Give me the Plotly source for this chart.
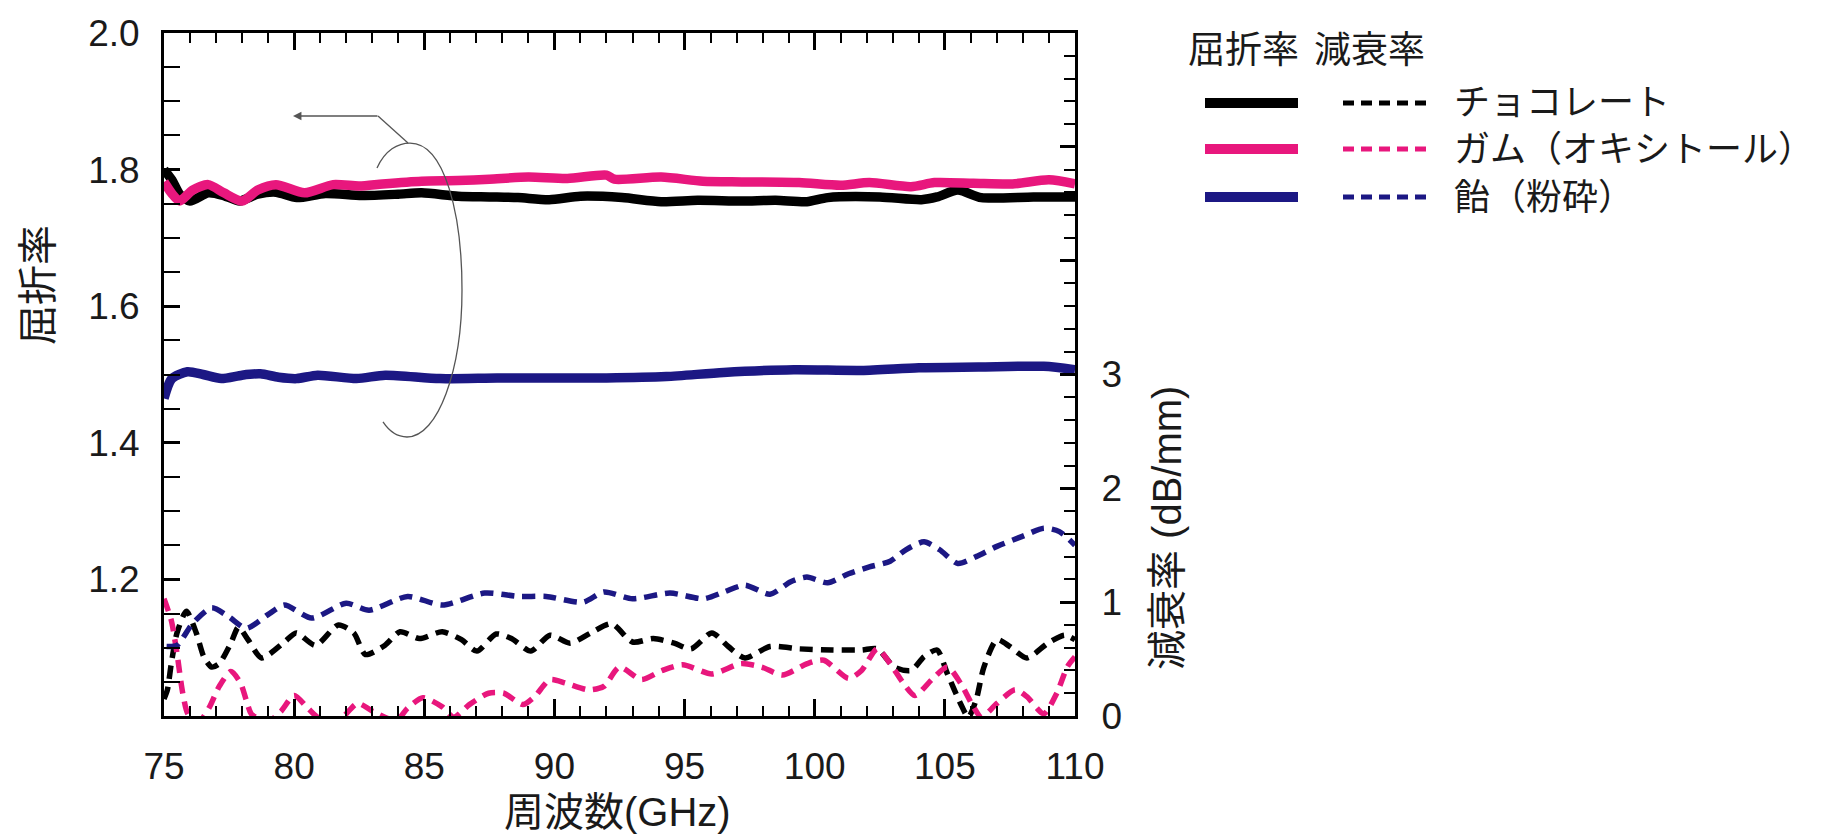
import plotly.graph_objects as go

# ---------------- data ----------------
freq_choc_n = [75.0, 75.3, 75.6, 76.0, 76.7, 77.3, 77.9, 78.6, 79.3, 80.1, 81.2, 82.6, 84.0, 84.9,
               86.3, 87.5, 88.6, 89.8, 91.0, 92.6, 94.1, 95.5, 97.2, 98.5, 99.7, 100.5, 102.5,
               104.1, 104.7, 105.5, 106.4, 108.4, 110.0]
n_choc = [1.800, 1.785, 1.764, 1.754, 1.766, 1.762, 1.754, 1.764, 1.767, 1.759, 1.765, 1.762, 1.764,
          1.766, 1.761, 1.760, 1.759, 1.756, 1.761, 1.759, 1.753, 1.755, 1.754, 1.755, 1.753, 1.759,
          1.760, 1.756, 1.760, 1.770, 1.759, 1.760, 1.760]

freq_gum_n = [75.0, 75.3, 75.6, 76.1, 76.7, 77.3, 78.0, 78.6, 79.3, 80.4, 81.5, 82.5, 83.4, 84.9,
              86.3, 87.5, 89.0, 90.5, 92.0, 92.3, 94.1, 95.7, 97.2, 99.4, 101.0, 102.1, 103.7,
              104.6, 106.1, 107.6, 109.0, 110.0]
n_gum = [1.782, 1.765, 1.754, 1.770, 1.778, 1.766, 1.754, 1.770, 1.778, 1.766, 1.778, 1.776, 1.779,
         1.783, 1.784, 1.786, 1.789, 1.787, 1.792, 1.786, 1.789, 1.783, 1.782, 1.781, 1.777, 1.781,
         1.775, 1.781, 1.780, 1.779, 1.785, 1.779]

freq_candy_n = [75.0, 75.3, 75.9, 76.5, 77.2, 78.0, 78.7, 79.4, 80.1, 80.9, 82.4, 83.5, 85.6, 87.8,
                89.8, 92.0, 94.3, 96.5, 99.2, 101.8, 104.0, 106.3, 108.8, 110.0]
n_candy = [1.465, 1.494, 1.504, 1.500, 1.494, 1.499, 1.501, 1.496, 1.494, 1.499, 1.494, 1.499, 1.494,
           1.495, 1.495, 1.495, 1.497, 1.503, 1.507, 1.506, 1.510, 1.511, 1.512, 1.507]

freq_choc_a = [75.0, 75.13, 75.28, 75.5, 75.86, 76.24, 76.53, 76.83, 77.12, 77.57, 77.86, 78.23, 78.75,
               79.63, 80.08, 80.82, 81.7, 82.29, 82.74, 83.48, 84.07, 84.81, 85.69, 86.43, 87.02, 87.76,
               88.35, 89.09, 89.83, 90.6, 91.4, 92.2, 93.0, 93.8, 94.6, 95.25, 96.05, 96.68, 97.32,
               98.28, 99.4, 100.67, 101.8, 102.4, 103.06, 103.7, 104.2, 104.7, 105.1, 105.6, 105.9,
               106.2, 106.5, 107.0, 107.5, 108.15, 108.96, 109.6, 110.0]
a_choc = [0.15, 0.23, 0.46, 0.73, 0.92, 0.73, 0.52, 0.43, 0.46, 0.64, 0.78, 0.67, 0.51,
          0.65, 0.73, 0.62, 0.80, 0.73, 0.54, 0.62, 0.74, 0.68, 0.74, 0.67, 0.57, 0.72,
          0.68, 0.57, 0.71, 0.64, 0.73, 0.81, 0.65, 0.68, 0.64, 0.59, 0.73, 0.61, 0.51,
          0.61, 0.59, 0.58, 0.58, 0.59, 0.43, 0.40, 0.52, 0.58, 0.37, 0.11, -0.01,
          0.14, 0.43, 0.67, 0.61, 0.51, 0.64, 0.71, 0.67]

freq_gum_a = [75.0, 75.28, 75.5, 75.72, 75.94, 76.38, 76.75, 77.12, 77.57, 77.94, 78.16, 78.38, 79.05,
              79.49, 80.0, 80.52, 80.96, 81.7, 82.44, 83.03, 83.92, 84.36, 84.95, 85.69, 86.13, 86.73,
              87.47, 88.06, 88.79, 89.24, 89.83, 90.42, 91.31, 91.9, 92.5, 93.34, 94.14, 94.93, 96.05,
              97.16, 97.96, 98.76, 99.71, 100.35, 101.3, 101.8, 102.4, 102.9, 103.4, 103.85, 104.5,
              105.1, 105.6, 106.1, 106.4, 107.0, 107.7, 108.15, 108.8, 109.3, 109.7, 110.0]
a_gum = [1.03, 0.84, 0.55, 0.20, 0.01, -0.04, 0.08, 0.26, 0.39, 0.29, 0.14, 0.01, -0.04,
         0.04, 0.18, 0.07, -0.02, -0.04, 0.11, 0.04, -0.04, 0.07, 0.16, 0.08, -0.01, 0.10,
         0.20, 0.20, 0.10, 0.17, 0.32, 0.29, 0.23, 0.26, 0.43, 0.32, 0.40, 0.45, 0.37,
         0.46, 0.43, 0.36, 0.46, 0.49, 0.33, 0.40, 0.59, 0.46, 0.29, 0.18, 0.32,
         0.43, 0.29, 0.08, -0.01, 0.11, 0.23, 0.17, 0.02, 0.20, 0.43, 0.52]

freq_candy_a = [75.1, 75.5, 76.09, 76.83, 77.5, 78.16, 79.05, 79.63, 80.67, 82.0, 82.88, 84.36, 85.69,
                87.32, 88.65, 89.68, 91.1, 91.9, 93.0, 94.44, 95.73, 96.52, 97.32, 98.28, 99.08,
                99.7, 100.5, 101.3, 102.1, 102.9, 103.5, 104.2, 104.8, 105.5, 106.2, 107.0, 108.0,
                108.8, 109.4, 110.0]
a_candy = [0.61, 0.62, 0.81, 0.95, 0.87, 0.77, 0.90, 0.975, 0.86, 0.99, 0.93, 1.05, 0.975,
           1.08, 1.05, 1.05, 1.00, 1.09, 1.03, 1.08, 1.03, 1.09, 1.15, 1.07, 1.18,
           1.22, 1.17, 1.25, 1.31, 1.36, 1.46, 1.53, 1.46, 1.34, 1.40, 1.49, 1.58,
           1.65, 1.62, 1.50]

series_names = ["チョコレート", "ガム（オキシトール）", "飴（粉砕）"]
x_ticks = [75, 80, 85, 90, 95, 100, 105, 110]
y_ticks = [1.2, 1.4, 1.6, 1.8, 2.0]
y2_ticks = [0, 1, 2, 3, 4, 5, 6]
y2_ticktext = ["0", "1", "2", "3", "", "", ""]

# ---------------- styling / geometry ----------------
W, H = 1834, 835
PL, PR, PT, PB = 164, 1075, 33, 716
X0, X1 = 75, 110
Y0, Y1 = 1.0, 2.0
BLACK, PINK, NAVY = "#000000", "#e8177d", "#1c1884"
FONT = "Liberation Sans, Arial, Noto Sans CJK JP, sans-serif"
TXT = "#1a1a1a"


def px2x(px):
    return X0 + (px - PL) / (PR - PL) * (X1 - X0)


def py2y(py):
    return Y0 + (PB - py) / (PB - PT) * (Y1 - Y0)


def ppx(px):
    return (px - PL) / (PR - PL)


def ppy(py):
    return (PB - py) / (PB - PT)


fig = go.Figure()

solid = [(freq_choc_n, n_choc, BLACK), (freq_gum_n, n_gum, PINK), (freq_candy_n, n_candy, NAVY)]
dashed = [(freq_choc_a, a_choc, BLACK), (freq_gum_a, a_gum, PINK), (freq_candy_a, a_candy, NAVY)]

for (fx, fy, c), name in zip(dashed, series_names):
    fig.add_trace(go.Scatter(x=fx, y=fy, yaxis="y2", mode="lines", name=name + " 減衰率",
                             line=dict(color=c, width=5.5, dash="13px,8px", shape="spline", smoothing=0.7),
                             showlegend=False, hoverinfo="skip"))
for (fx, fy, c), name in zip(solid, series_names):
    fig.add_trace(go.Scatter(x=fx, y=fy, mode="lines", name=name + " 屈折率",
                             line=dict(color=c, width=9.5, shape="spline", smoothing=0.7),
                             showlegend=False, hoverinfo="skip"))

shapes = []
annotations = []

# bracket arc + arrow pointing to left axis
pts = [(377, 168), (385, 150), (398, 143), (410, 143),
       (445, 143), (462, 215), (462, 290),
       (462, 370), (438, 437), (407, 437),
       (397, 437), (389, 431), (383, 422)]
d = "M {:.4f},{:.4f}".format(px2x(pts[0][0]), py2y(pts[0][1]))
for i in range(1, len(pts), 3):
    d += " C " + " ".join("{:.4f},{:.4f}".format(px2x(p[0]), py2y(p[1])) for p in pts[i:i + 3])
shapes.append(dict(type="path", xref="x", yref="y", path=d, line=dict(color="#555555", width=1.3)))
shapes.append(dict(type="line", xref="x", yref="y", x0=px2x(378), y0=py2y(116), x1=px2x(408), y1=py2y(143),
                   line=dict(color="#555555", width=1.3)))
annotations.append(dict(x=px2x(293), y=py2y(116), ax=px2x(379), ay=py2y(116), xref="x", yref="y",
                        axref="x", ayref="y", text="", showarrow=True, arrowhead=2, arrowsize=1.3,
                        arrowwidth=1.3, arrowcolor="#555555"))

# custom legend
annotations.append(dict(x=ppx(1186), y=ppy(50), xref="paper", yref="paper", text="屈折率", showarrow=False,
                        xanchor="left", yanchor="middle", font=dict(size=37, color=TXT, family=FONT)))
annotations.append(dict(x=ppx(1312), y=ppy(50), xref="paper", yref="paper", text="減衰率", showarrow=False,
                        xanchor="left", yanchor="middle", font=dict(size=37, color=TXT, family=FONT)))
rows = [103, 149, 197]
for (c, name, ry) in zip([BLACK, PINK, NAVY], series_names, rows):
    shapes.append(dict(type="line", xref="paper", yref="paper", x0=ppx(1205), x1=ppx(1298), y0=ppy(ry), y1=ppy(ry),
                       line=dict(color=c, width=10)))
    shapes.append(dict(type="line", xref="paper", yref="paper", x0=ppx(1343), x1=ppx(1427), y0=ppy(ry), y1=ppy(ry),
                       line=dict(color=c, width=5, dash="11px,7px")))
    annotations.append(dict(x=ppx(1452), y=ppy(ry), xref="paper", yref="paper", text=name, showarrow=False,
                            xanchor="left", yanchor="middle", font=dict(size=36, color=TXT, family=FONT)))

# axis titles
annotations.append(dict(x=ppx(38), y=ppy(285), xref="paper", yref="paper", text="屈折率", textangle=-90,
                        showarrow=False, xanchor="center", yanchor="middle",
                        font=dict(size=40, color=TXT, family=FONT)))
annotations.append(dict(x=ppx(617), y=ppy(812), xref="paper", yref="paper", text="周波数(GHz)",
                        showarrow=False, xanchor="center", yanchor="middle",
                        font=dict(size=40, color=TXT, family=FONT)))
annotations.append(dict(x=ppx(1167), y=ppy(528), xref="paper", yref="paper", text="減衰率 (dB/mm)", textangle=-90,
                        showarrow=False, xanchor="center", yanchor="middle",
                        font=dict(size=40, color=TXT, family=FONT)))

tickfont = dict(size=37, color=TXT, family=FONT)
fig.update_layout(
    width=W, height=H,
    margin=dict(l=PL, r=W - PR, t=PT, b=H - PB, pad=0),
    paper_bgcolor="white", plot_bgcolor="white",
    font=dict(family=FONT, color=TXT),
    xaxis=dict(range=[X0, X1], tickmode="array", tickvals=x_ticks, ticks="inside", ticklen=17, tickwidth=2.5,
               tickcolor="black", showline=True, linecolor="black", linewidth=3, mirror="ticks",
               showgrid=False, zeroline=False, tickfont=tickfont, ticklabelstandoff=16,
               minor=dict(tickmode="linear", tick0=75, dtick=1, ticks="inside", ticklen=10, tickwidth=2,
                          tickcolor="black", showgrid=False)),
    yaxis=dict(range=[Y0, Y1], tickmode="array", tickvals=y_ticks, ticks="inside", ticklen=16, tickwidth=2.5,
               tickcolor="black", showline=True, linecolor="black", linewidth=3, mirror=False,
               showgrid=False, zeroline=False, tickfont=tickfont, ticklabelstandoff=14, tickformat=".1f",
               minor=dict(tickmode="linear", tick0=1.0, dtick=0.05, ticks="inside", ticklen=16, tickwidth=2,
                          tickcolor="black", showgrid=False)),
    yaxis2=dict(range=[0, 6], overlaying="y", side="right", anchor="x", tickmode="array", tickvals=y2_ticks,
                ticktext=y2_ticktext, ticks="inside", ticklen=15, tickwidth=2.5, tickcolor="black",
                showline=True, linecolor="black", linewidth=3, showgrid=False, zeroline=False,
                tickfont=tickfont, ticklabelstandoff=16,
                minor=dict(tickmode="linear", tick0=0, dtick=0.2, ticks="inside", ticklen=11, tickwidth=2,
                           tickcolor="black", showgrid=False)),
    shapes=shapes,
    annotations=annotations,
    showlegend=False,
)

fig.write_html("out.html", config={"displayModeBar": False},
               post_script="document.body.style.margin='0';document.body.style.overflow='hidden';")
